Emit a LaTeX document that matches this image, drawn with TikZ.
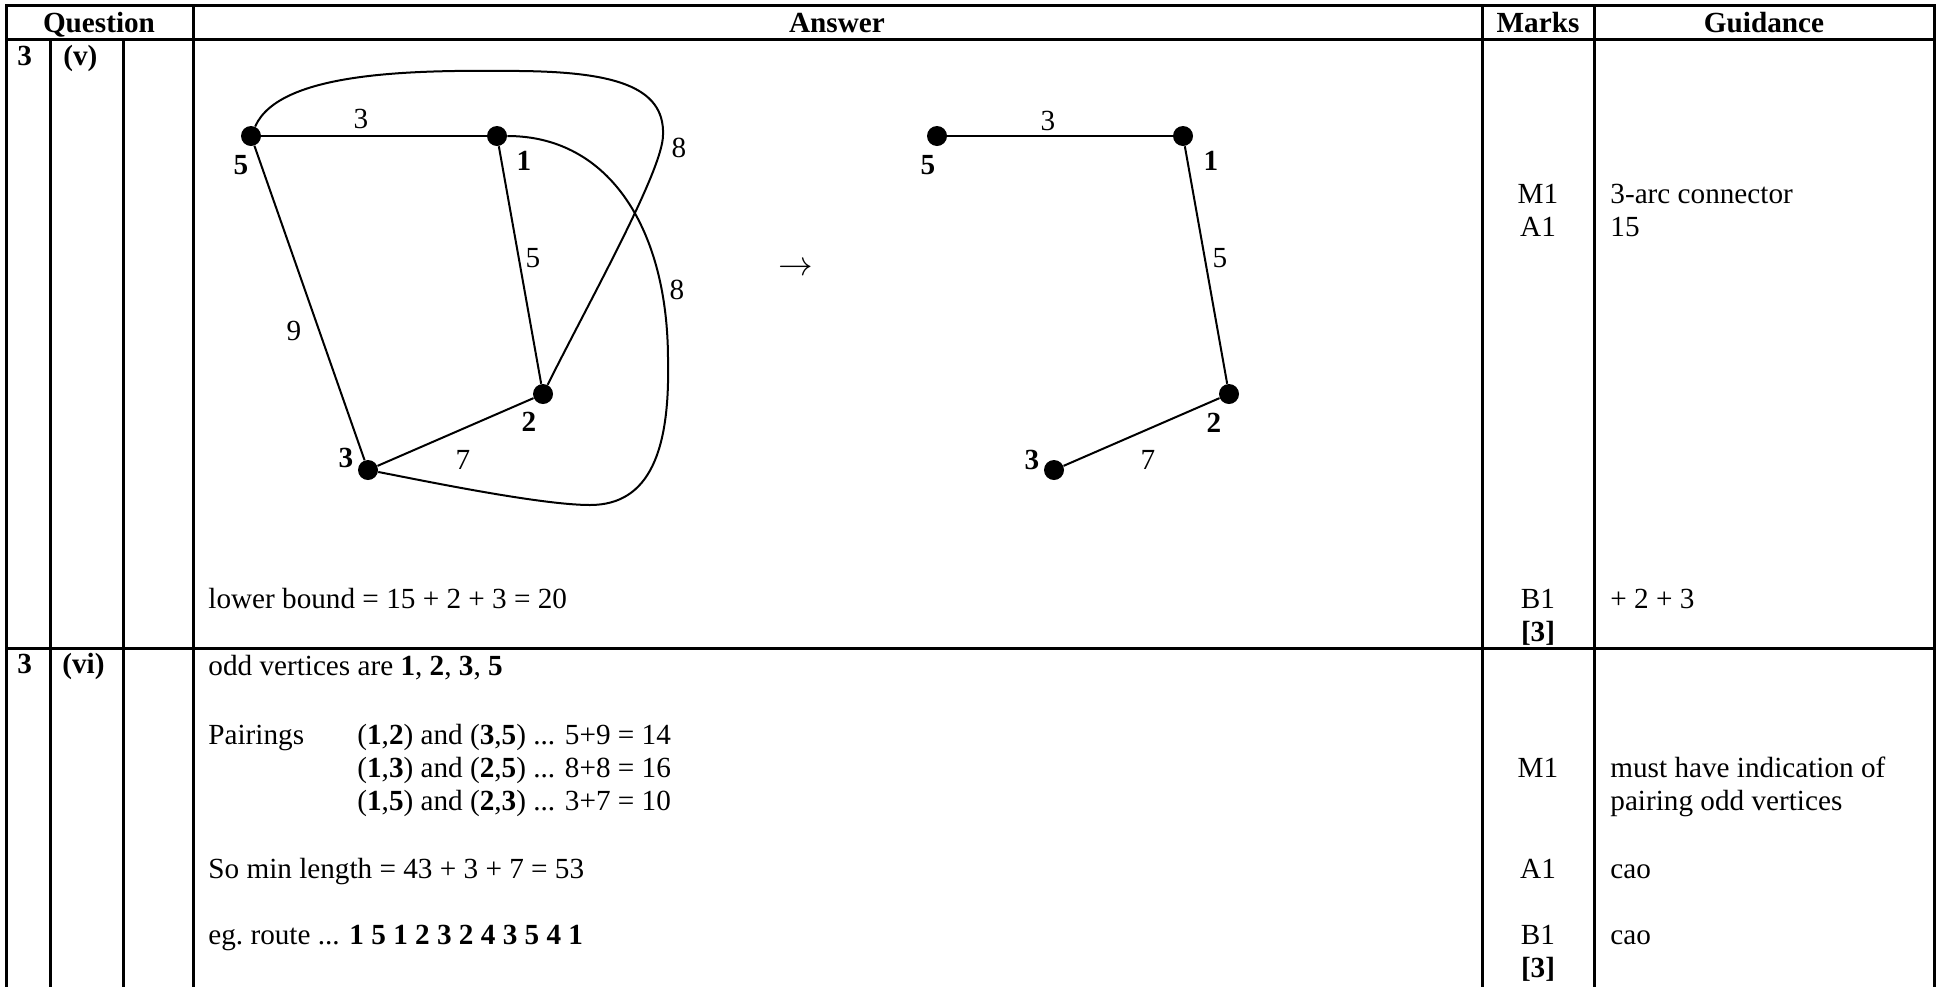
\documentclass[tikz,border=0pt]{standalone}
\usepackage{fontspec}
\setmainfont{Liberation Serif}
\begin{document}
\begin{tikzpicture}[x=0.5pt,y=-0.5pt,
  font=\fontsize{14.6}{16.5}\selectfont,
  grid/.style={line width=1.5pt},
  edge/.style={line width=1pt},
  vtx/.style={circle,fill=black,inner sep=0pt,minimum size=10pt},
  txt/.style={inner sep=0pt,anchor=base west},
  ctxt/.style={inner sep=0pt,anchor=base},
  lab/.style={inner sep=0pt},
  bf/.style={font=\fontsize{14.6}{16.5}\selectfont\bfseries},
  vlab/.style={inner sep=0pt,bf}]
\useasboundingbox (0,0) rectangle (1941,986);
% table grid
\draw[grid] (6,995) -- (6,5) -- (1934,5) -- (1934,995);
\draw[grid] (6,39) -- (1934,39);
\draw[grid] (6,648) -- (1934,648);
\draw[grid] (50,39) -- (50,995);
\draw[grid] (123,39) -- (123,995);
\draw[grid] (193,5) -- (193,995);
\draw[grid] (1482,5) -- (1482,995);
\draw[grid] (1594,5) -- (1594,995);
% header
\node[ctxt,bf] (hq) at (99,32) {Question};
\node[ctxt,bf] (ha) at (837,32) {Answer};
\node[ctxt,bf] (hm) at (1538,32) {Marks};
\node[ctxt,bf] (hg) at (1764,32) {Guidance};
% row 1 question
\node[txt,bf] (q1a) at (17,65) {3};
\node[txt,bf] (q1b) at (63,65) {(v)};
% graph 1
\node[vtx] (a5) at (251,136) {};
\node[vtx] (a1) at (497,136) {};
\node[vtx] (a2) at (543,394) {};
\node[vtx] (a3) at (368,470) {};
\draw[edge] (a5) -- (a1);
\draw[edge] (a1) -- (a2);
\draw[edge] (a5) -- (a3);
\draw[edge] (a3) -- (a2);
\draw[edge] (a5) .. controls (280,70) and (420,70) .. (520,71)
  .. controls (610,72) and (665,85) .. (663,135)
  .. controls (663,170) and (590,300) .. (a2);
\draw[edge] (a1) .. controls (610,136) and (668,230) .. (668,360)
  .. controls (670,450) and (650,505) .. (590,505)
  .. controls (540,505) and (420,480) .. (a3);
\node[lab] (w53) at (361,119) {3};
\node[lab] (w12) at (533,258) {5};
\node[lab] (w35) at (294,331) {9};
\node[lab] (w32) at (463,460) {7};
\node[lab] (w25) at (679,148) {8};
\node[lab] (w13) at (677,290) {8};
\node[vlab] (l5) at (241,165) {5};
\node[vlab] (l1) at (524,161) {1};
\node[vlab] (l2) at (529,422) {2};
\node[vlab] (l3) at (346,458) {3};
% arrow
\node[lab,font=\fontsize{16.5}{18}\selectfont] (arr) at (796,269) {$\rightarrow$};
% graph 2
\node[vtx] (b5) at (937,136) {};
\node[vtx] (b1) at (1183,136) {};
\node[vtx] (b2) at (1229,394) {};
\node[vtx] (b3) at (1054,470) {};
\draw[edge] (b5) -- (b1);
\draw[edge] (b1) -- (b2);
\draw[edge] (b3) -- (b2);
\node[lab] (v53) at (1048,121) {3};
\node[lab] (v12) at (1220,258) {5};
\node[lab] (v32) at (1148,460) {7};
\node[vlab] (k5) at (928,165) {5};
\node[vlab] (k1) at (1211,161) {1};
\node[vlab] (k2) at (1214,423) {2};
\node[vlab] (k3) at (1032,460) {3};
% row 1 answer text
\node[txt] (lb) at (208,608) {lower bound = 15 + 2 + 3 = 20};
% row 1 marks / guidance
\node[ctxt] (m1a) at (1538,203) {M1};
\node[ctxt] (m1b) at (1538,236) {A1};
\node[ctxt] (m1c) at (1538,608) {B1};
\node[ctxt,bf] (m1d) at (1538,641) {[3]};
\node[txt] (g1a) at (1610,203) {3-arc connector};
\node[txt] (g1b) at (1610,236) {15};
\node[txt] (g1c) at (1610,608) {+ 2 + 3};
% row 2 question
\node[txt,bf] (q2a) at (17,673) {3};
\node[txt,bf] (q2b) at (62,673) {(vi)};
% row 2 answer
\node[txt] (od) at (208,675) {odd vertices are \textbf{1}, \textbf{2}, \textbf{3}, \textbf{5}};
\node[txt] (pa) at (208,744) {Pairings};
\node[txt] (p1) at (357,744) {(\textbf{1},\textbf{2}) and (\textbf{3},\textbf{5}) ... 5+9 = 14};
\node[txt] (p2) at (357,777) {(\textbf{1},\textbf{3}) and (\textbf{2},\textbf{5}) ... 8+8 = 16};
\node[txt] (p3) at (357,810) {(\textbf{1},\textbf{5}) and (\textbf{2},\textbf{3}) ... 3+7 = 10};
\node[txt] (ml) at (208,878) {So min length = 43 + 3 + 7 = 53};
\node[txt] (rt) at (208,944) {eg.\ route ... \textbf{1 5 1 2 3 2 4 3 5 4 1}};
% row 2 marks / guidance
\node[ctxt] (m2a) at (1538,777) {M1};
\node[ctxt] (m2b) at (1538,878) {A1};
\node[ctxt] (m2c) at (1538,944) {B1};
\node[ctxt,bf] (m2d) at (1538,977) {[3]};
\node[txt] (g2a) at (1610,777) {must have indication of};
\node[txt] (g2b) at (1610,810) {pairing odd vertices};
\node[txt] (g2c) at (1610,878) {cao};
\node[txt] (g2d) at (1610,944) {cao};
\end{tikzpicture}
\end{document}
